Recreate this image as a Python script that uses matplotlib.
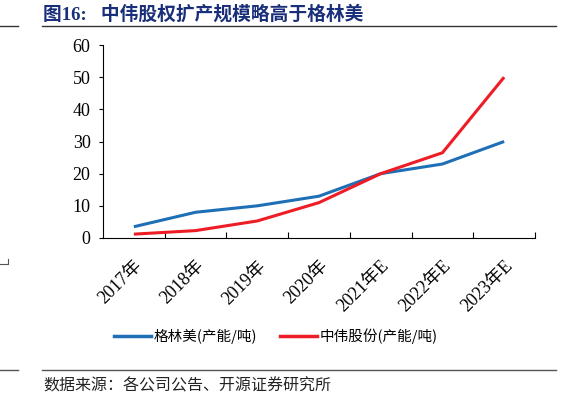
import numpy as np
import matplotlib.pyplot as plt
from matplotlib.lines import Line2D

plt.rcParams['font.family'] = ['Liberation Serif', 'Noto Sans CJK SC', 'DejaVu Sans']

#%%     DATA

years = ['2017年', '2018年', '2019年', '2020年', '2021年E', '2022年E', '2023年E']
gem = [3.5, 8, 10, 13, 20, 23, 30]            # 格林美
cnge = [1.2, 2.3, 5.3, 11, 20, 26.5, 50]      # 中伟股份
yticks = [0, 10, 20, 30, 40, 50, 60]

title = '图16:   中伟股权扩产规模略高于格林美'
source = '数据来源：各公司公告、开源证券研究所'

blue = '#1F6FB7'
red = '#EE1C25'
navy = '#1A2F7A'

#%%     FIGURE

fig = plt.figure(figsize=(5.76, 3.97), dpi=100)
W, H = 576, 397
ax = fig.add_axes([103 / W, 1 - 238 / H, (535 - 103) / W, (238 - 45) / H])

x = np.arange(len(years))
ax.plot(x, gem, color=blue, lw=2.2, solid_capstyle='butt')
ax.plot(x, cnge, color=red, lw=2.2, solid_capstyle='butt')

ax.set_xlim(-0.5, len(years) - 0.5)
ax.set_ylim(0, 60)
ax.set_yticks(yticks)
ax.set_yticklabels([str(v) for v in yticks], fontsize=13)
ax.set_xticks(x)
ax.set_xticklabels(years, rotation=45, ha='right', rotation_mode='anchor',
                   fontsize=13)
ax.set_xticks(np.arange(len(years)) + 0.5, minor=True)
ax.tick_params(axis='x', which='major', length=0, pad=14)
ax.tick_params(axis='x', which='minor', direction='in', length=4, width=0.8)
ax.tick_params(axis='y', direction='out', length=3, width=0.8, pad=6)
for s in ['top', 'right']:
    ax.spines[s].set_visible(False)
for s in ['left', 'bottom']:
    ax.spines[s].set_linewidth(0.8)

handles = [Line2D([], [], color=blue, lw=2.5),
           Line2D([], [], color=red, lw=2.5)]
fig.legend(handles, ['格林美(产能/吨)', '中伟股份(产能/吨)'],
           loc='center', bbox_to_anchor=(276 / W, 1 - 336 / H), ncol=2,
           frameon=False, handlelength=2.5, handletextpad=0.2,
           columnspacing=1.6, prop={'family': ['Noto Sans CJK SC'], 'size': 10.5})

#%%     HEADER / FOOTER

fig.text(43 / W, 1 - 14 / H, title, fontsize=13.5, fontweight='bold', color=navy,
         va='center', ha='left', family=['Liberation Serif', 'Noto Sans CJK SC'])
fig.add_artist(Line2D([42 / W, 556 / W], [1 - 26 / H] * 2, color='#333333', lw=1.0))
fig.add_artist(Line2D([0, 18 / W], [1 - 26 / H] * 2, color='#333333', lw=1.0))
fig.add_artist(Line2D([42 / W, 556 / W], [1 - 370 / H] * 2, color='#555555', lw=1.0))
fig.add_artist(Line2D([0, 18 / W], [1 - 370 / H] * 2, color='#555555', lw=1.0))
fig.add_artist(Line2D([0, 8 / W, 8 / W], [1 - 264 / H, 1 - 264 / H, 1 - 259 / H],
                      color='#555555', lw=0.8))
fig.text(43 / W, 1 - 386 / H, source, fontsize=11.5, color='#222222',
         va='center', ha='left', family=['Noto Sans CJK SC'])

fig.savefig('out.png', dpi=100)
